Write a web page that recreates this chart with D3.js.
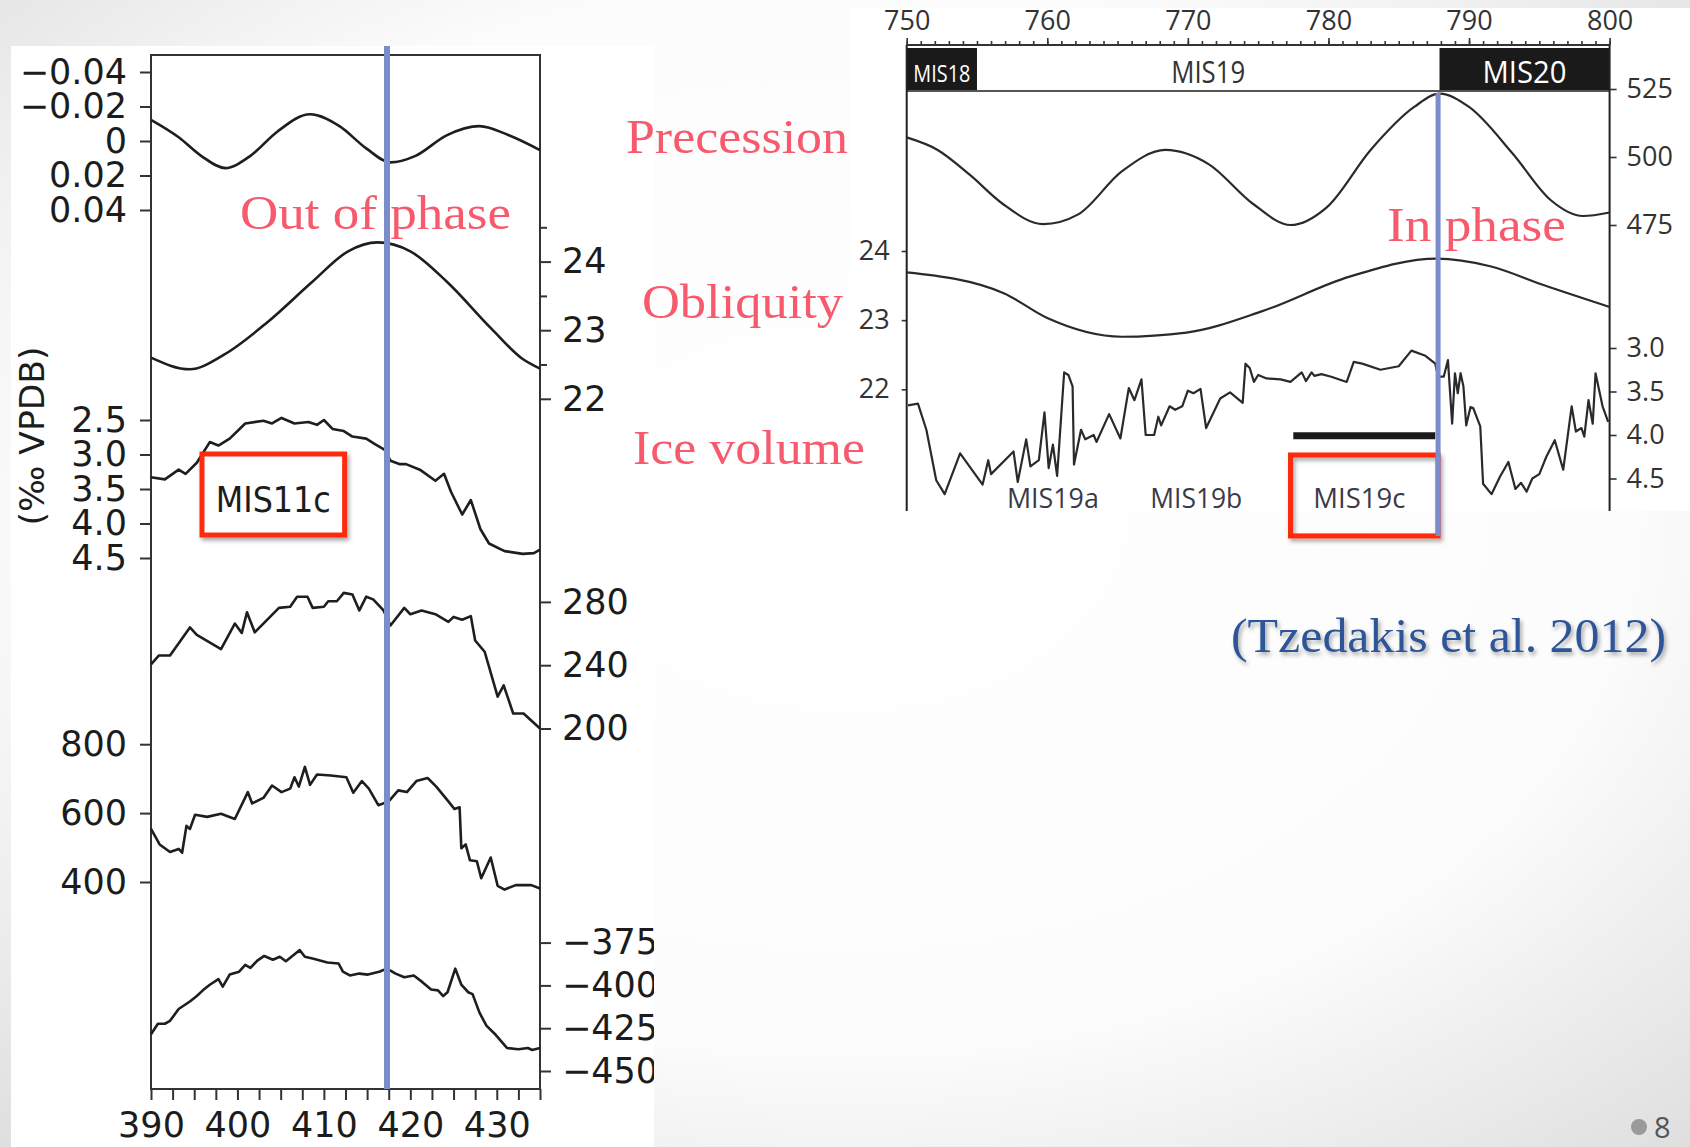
<!DOCTYPE html>
<html>
<head>
<meta charset="utf-8">
<title>MIS11 vs MIS19 orbital phasing</title>
<script src="https://d3js.org/d3.v7.min.js"></script>
<style>
  body { margin: 0; overflow: hidden; }
  .lfig text { font-family: "DejaVu Sans", sans-serif; font-size: 35px; fill: #1c1c1c; }
  .lfig .tick line { stroke: #333; stroke-width: 2px; }
  .rfig text { font-family: "Open Sans", sans-serif; font-size: 27px; fill: #333; }
  .rfig .tick line { stroke: #333; stroke-width: 1.6px; }
  .curve { fill: none; stroke: #1e1e1e; stroke-width: 2.6px; stroke-linejoin: round; }
  .rfig .curve { stroke: #2a2a2a; stroke-width: 2.2px; }
  .note { font-family: "Liberation Serif", serif; font-size: 49px; fill: #f75a6d; }
</style>
</head>
<body>
<div id="chart"></div>
<script>
// ---- left panel: MIS11 (age, kyr BP) ----
const precL = [[390,-0.0123],[393.2,-0.0022],[395.8,0.0086],[398.6,0.0157],[401.5,0.0086],[404.6,-0.0054],[408.4,-0.0155],[411.8,-0.0086],[414.9,0.0043],[417.7,0.0124],[420.6,0.0086],[424.2,-0.0033],[428.0,-0.0086],[431.4,-0.0033],[435,0.0053]];
const oblL = [[390,22.6],[394.5,22.43],[398.4,22.64],[403.5,23.12],[408.7,23.71],[412.8,24.15],[416.2,24.28],[420.0,24.15],[424.2,23.71],[429.4,23.02],[433,22.58],[435,22.44]];
const iceL = [[390,3.33],[391.6,3.36],[393.2,3.22],[394.0,3.28],[395.3,3.12],[396.8,2.82],[397.8,2.87],[399.1,2.77],[400.9,2.55],[403.0,2.51],[404.0,2.55],[405.1,2.47],[406.6,2.55],[408.2,2.53],[409.2,2.57],[410.0,2.50],[411.0,2.63],[412.3,2.66],[413.3,2.74],[414.9,2.77],[415.9,2.85],[417.0,2.93],[417.7,3.09],[418.8,3.14],[419.5,3.14],[421.1,3.22],[422.9,3.38],[423.9,3.28],[424.7,3.54],[426.0,3.87],[427.0,3.66],[428.1,4.08],[429.1,4.29],[430.9,4.40],[433.0,4.44],[434.3,4.43],[435,4.38]];
const co2L = [[390,240.5],[390.9,246.1],[392.2,246.1],[394.5,263.9],[395.3,259.1],[398.1,250.2],[399.7,266.3],[400.5,260.4],[401.1,273.4],[402.0,260.8],[404.8,276.2],[406.1,276.9],[406.9,283.3],[408.1,283.3],[408.7,276.2],[410.0,276.9],[410.5,280.4],[411.5,280.4],[412.3,285.7],[413.3,284.7],[414.1,274.6],[414.9,283.3],[415.7,281.6],[416.9,274.6],[417.7,265.1],[419.3,276.2],[420.0,272.2],[421.3,274.6],[422.9,272.2],[424.4,267.4],[425.0,270.5],[426.0,268.7],[427.0,271.0],[427.5,255.6],[428.6,248.5],[430.1,220.1],[430.8,227.2],[431.9,209.5],[433.1,209.5],[435,200]];
const ch4L = [[390,554],[391,509],[392.2,487],[393.2,496],[393.6,485],[394.1,563],[394.5,554],[395.1,595],[396.5,589],[398.1,598],[399.7,583],[401.2,661],[401.7,628],[403.0,644],[404.0,680],[405.1,661],[406.1,671],[406.6,704],[407.1,677],[407.8,734],[408.4,682],[409.2,712],[410.8,709],[412.6,704],[413.4,659],[414.4,693],[415.2,671],[416.3,623],[417.5,634],[418.6,666],[419.6,661],[420.7,693],[422.0,702],[423.0,677],[424.4,634],[425.1,612],[425.7,617],[425.9,498],[426.4,509],[426.9,463],[427.7,460],[428.2,411],[429.3,471],[430.1,389],[430.9,378],[432.2,391],[434.0,391],[435,381]];
const dDL = [[390,-428.5],[390.8,-422.4],[391.6,-422.4],[392.2,-420.7],[393.2,-413.8],[394.5,-409.4],[395.3,-406.2],[396.0,-402.9],[396.8,-399.6],[397.8,-396.3],[398.3,-400.7],[399.1,-393.7],[400.2,-392],[400.9,-388],[401.5,-389.8],[402.3,-385.5],[403.1,-382.8],[404.1,-385.0],[404.9,-383.3],[405.6,-385.9],[406.5,-382.2],[407.2,-379.4],[407.8,-383.3],[408.8,-384.4],[410.4,-386.6],[411.7,-387.2],[412.2,-392],[413.0,-394.2],[414.1,-393.1],[415.1,-393.7],[416.4,-392],[417.3,-390.2],[418.3,-393.1],[419.3,-395.2],[420.4,-394.2],[421.4,-398.1],[422.4,-402.4],[423.2,-402.9],[423.8,-406.2],[424.3,-404],[425.2,-390.2],[425.9,-399.6],[426.7,-404],[427.2,-405.1],[428.0,-415.9],[428.8,-423.5],[429.9,-429],[431.2,-436.6],[432.5,-437.3],[433.6,-436.6],[434.1,-437.7],[435,-436.6]];

const xTicksL = [390, 400, 410, 420, 430];
const precTicksL = [-0.04, -0.02, 0, 0.02, 0.04];
const oblTicksL = [22, 23, 24];
const iceTicksL = [2.5, 3.0, 3.5, 4.0, 4.5];
const co2TicksL = [200, 240, 280];
const ch4TicksL = [400, 600, 800];
const dDTicksL = [-450, -425, -400, -375];

// ---- right panel: MIS19 ----
const precR = [[750,507.2],[752.2,502.6],[754.5,493.4],[756.8,482.9],[759.7,475.3],[762.2,478.9],[765.3,494.7],[768.4,502.6],[771.5,497.3],[774.6,482.9],[777.3,475.0],[779.9,481.6],[783.0,502.6],[786.1,518.4],[787.9,523.3],[790.0,518.4],[793.1,501.3],[795.8,484.2],[798.1,478.3],[800,479.6]];
const oblR = [[750,23.69],[756.9,23.39],[760.0,23.03],[765.3,22.76],[769.9,22.82],[775.3,23.13],[781.5,23.63],[787.7,23.89],[791.5,23.78],[795.4,23.50],[800,23.19]];
const iceR = [[750.1,3.66],[750.8,3.64],[751.4,3.94],[752.1,4.52],[752.7,4.68],[753.8,4.21],[755.4,4.57],[755.8,4.29],[756.0,4.45],[757.6,4.19],[757.9,4.54],[758.5,4.05],[758.8,4.36],[759.4,4.29],[759.8,3.74],[760.1,4.38],[760.4,4.11],[760.7,4.47],[761.2,3.28],[761.5,3.31],[761.8,3.44],[761.9,4.34],[762.4,3.94],[762.7,4.05],[763.3,4.00],[763.5,4.08],[764.4,3.76],[765.2,4.04],[765.8,3.46],[766.2,3.60],[766.7,3.36],[767.0,4.00],[767.6,4.00],[767.9,3.79],[768.1,3.89],[768.7,3.67],[769.1,3.71],[769.6,3.67],[770.0,3.49],[770.4,3.52],[770.9,3.47],[771.3,3.92],[772.3,3.58],[773.0,3.51],[773.9,3.63],[774.1,3.18],[774.4,3.23],[774.7,3.39],[775.0,3.31],[775.6,3.35],[776.6,3.36],[777.3,3.39],[778.1,3.28],[778.4,3.38],[778.8,3.28],[779.0,3.32],[779.5,3.30],[780.2,3.33],[781.3,3.39],[781.8,3.16],[782.4,3.18],[783.7,3.25],[785.0,3.21],[785.9,3.03],[786.9,3.09],[787.6,3.18],[787.8,3.33],[788.2,3.33],[788.5,3.14],[788.8,3.87],[789.0,3.29],[789.2,3.52],[789.4,3.29],[789.6,3.44],[789.8,3.89],[790.1,3.68],[790.3,3.69],[790.8,3.90],[791.0,4.56],[791.6,4.68],[792.2,4.48],[792.8,4.31],[793.3,4.62],[793.7,4.55],[794.1,4.65],[794.5,4.50],[795.0,4.45],[795.5,4.25],[796.1,4.06],[796.7,4.40],[797.3,3.67],[797.6,3.96],[798.0,3.92],[798.2,4.02],[798.5,3.60],[798.8,3.87],[799.0,3.29],[799.5,3.67],[799.9,3.85]];

const xTicksR = [750, 760, 770, 780, 790, 800];
const precTicksR = [475, 500, 525];
const oblTicksR = [22, 23, 24];
const iceTicksR = [3.0, 3.5, 4.0, 4.5];
const stages = ["MIS18", "MIS19", "MIS20"];
const stageFrom = [750, 755, 787.9];
const stageTo = [755, 787.9, 800];
const subStages = ["MIS19a", "MIS19b", "MIS19c"];
const subStageAge = [760.4, 770.6, 782.2];

const phaseAgeL = 417.3, phaseAgeR = 787.8;

const W = 1690, H = 1147;
const svg = d3.select("#chart").append("svg").attr("width", W).attr("height", H);
const defs = svg.append("defs");

const bg = defs.append("radialGradient").attr("id", "bg")
  .attr("cx", "0.5").attr("cy", "0.45").attr("r", "0.75");
bg.append("stop").attr("offset", "0").attr("stop-color", "#ffffff");
bg.append("stop").attr("offset", "0.62").attr("stop-color", "#fcfcfc");
bg.append("stop").attr("offset", "1").attr("stop-color", "#dedede");

const sh = defs.append("filter").attr("id", "shadow").attr("x", "-20%").attr("y", "-20%").attr("width", "140%").attr("height", "150%");
sh.append("feDropShadow").attr("dx", 2).attr("dy", 3).attr("stdDeviation", 2).attr("flood-opacity", 0.35);

defs.append("clipPath").attr("id", "clipL").append("rect").attr("x", 11).attr("y", 46).attr("width", 643).attr("height", H - 46);
defs.append("clipPath").attr("id", "clipR").append("rect").attr("x", 906).attr("y", 45).attr("width", 704).attr("height", 466);

svg.append("rect").attr("width", W).attr("height", H).attr("fill", "url(#bg)");

// ================= left figure =================
const xL = d3.scaleLinear().domain([390, 435]).range([151, 540]);
const yPrecL = d3.scaleLinear().domain([-0.04, 0.04]).range([72, 210]);
const yOblL = d3.scaleLinear().domain([22, 24]).range([398.8, 261.6]);
const yIceL = d3.scaleLinear().domain([2.5, 4.5]).range([420, 558]);
const yCo2L = d3.scaleLinear().domain([200, 280]).range([728.5, 601.9]);
const yCh4L = d3.scaleLinear().domain([400, 800]).range([882, 744.2]);
const yDdL = d3.scaleLinear().domain([-450, -375]).range([1071, 942.6]);

const gL = svg.append("g").attr("class", "lfig").attr("clip-path", "url(#clipL)");
gL.append("rect").attr("x", 11).attr("y", 46).attr("width", 643).attr("height", H - 46).attr("fill", "#fff");

function axis(g, a, tx, ty) {
  const s = g.append("g").attr("transform", `translate(${tx},${ty})`).call(a);
  s.select(".domain").remove();
  s.attr("font-size", null).attr("font-family", null);
  return s;
}
const fmt2 = d => d === 0 ? "0" : d3.format(".2f")(d);
axis(gL, d3.axisLeft(yPrecL).tickValues(precTicksL).tickFormat(fmt2).tickSize(11).tickPadding(13), 151, 0);
axis(gL, d3.axisLeft(yIceL).tickValues(iceTicksL).tickFormat(d3.format(".1f")).tickSize(11).tickPadding(13), 151, 0);
axis(gL, d3.axisLeft(yCh4L).tickValues(ch4TicksL).tickFormat(d3.format("d")).tickSize(11).tickPadding(13), 151, 0);
axis(gL, d3.axisRight(yOblL).tickValues(oblTicksL).tickFormat(d3.format("d")).tickSize(11).tickPadding(11), 540, 0);
axis(gL, d3.axisRight(yOblL).tickValues(oblTicksL.map(d => d + 0.5)).tickFormat("").tickSize(7), 540, 0);
axis(gL, d3.axisRight(yCo2L).tickValues(co2TicksL).tickFormat(d3.format("d")).tickSize(11).tickPadding(11), 540, 0);
axis(gL, d3.axisRight(yDdL).tickValues(dDTicksL).tickFormat(d3.format("d")).tickSize(11).tickPadding(11), 540, 0);
axis(gL, d3.axisBottom(xL).tickValues(d3.range(390, 435.01, 2.5))
  .tickFormat(d => xTicksL.includes(d) ? d : "").tickSize(11).tickPadding(12), 0, 1089);

gL.append("rect").attr("x", xL(390)).attr("y", 55).attr("width", xL(435) - xL(390)).attr("height", 1089 - 55)
  .attr("fill", "none").attr("stroke", "#333").attr("stroke-width", 2);

gL.append("text").attr("transform", "translate(44,436) rotate(-90)").attr("text-anchor", "middle")
  .attr("textLength", 179).attr("lengthAdjust", "spacingAndGlyphs").style("font-size", "33px")
  .text("(\u2030 VPDB)");

const series = [[precL, yPrecL, d3.curveMonotoneX], [oblL, yOblL, d3.curveMonotoneX],
  [iceL, yIceL, d3.curveLinear], [co2L, yCo2L, d3.curveLinear], [ch4L, yCh4L, d3.curveLinear], [dDL, yDdL, d3.curveLinear]];
series.forEach(([data, y, c]) => {
  gL.append("path").attr("class", "curve")
    .attr("d", d3.line().x(d => xL(d[0])).y(d => y(d[1])).curve(c)(data));
});

// MIS11c box
gL.append("rect").attr("x", xL(395.9)).attr("y", yIceL(2.993)).attr("width", xL(412.4) - xL(395.9))
  .attr("height", yIceL(4.167) - yIceL(2.993)).attr("fill", "#fff").attr("stroke", "#fd2a0c")
  .attr("stroke-width", 5).attr("filter", "url(#shadow)");
gL.append("text").attr("x", (xL(395.9) + xL(412.4)) / 2).attr("y", 512).attr("text-anchor", "middle")
  .attr("textLength", 115).attr("lengthAdjust", "spacingAndGlyphs").text("MIS11c");

// ================= right figure =================
const xR = d3.scaleLinear().domain([750, 800]).range([906.7, 1609.6]);
const yPrecR = d3.scaleLinear().domain([475, 525]).range([225, 89]);
const yOblR = d3.scaleLinear().domain([22, 24]).range([389.3, 251]);
const yIceR = d3.scaleLinear().domain([3.0, 4.5]).range([348, 478.5]);

const gR = svg.append("g").attr("class", "rfig");
gR.append("rect").attr("x", 850).attr("y", 8).attr("width", W - 850).attr("height", 503).attr("fill", "#fff");

axis(gR, d3.axisTop(xR).tickValues(d3.range(750, 800.5, 1)).tickFormat("").tickSize(4), 0, 45);
axis(gR, d3.axisTop(xR).tickValues(xTicksR).tickFormat(d3.format("d")).tickSize(7).tickPadding(8), 0, 45);
axis(gR, d3.axisRight(yPrecR).tickValues(precTicksR).tickFormat(d3.format("d")).tickSize(7).tickPadding(10), xR(800), 0);
axis(gR, d3.axisRight(yIceR).tickValues(iceTicksR).tickFormat(d3.format(".1f")).tickSize(7).tickPadding(10), xR(800), 0);
axis(gR, d3.axisLeft(yOblR).tickValues(oblTicksR).tickFormat(d3.format("d")).tickSize(5).tickPadding(12), xR(750), 0);

// stage bar
const bar = gR.append("g");
stages.forEach((s, i) => {
  const dark = s !== "MIS19";
  bar.append("rect").attr("x", xR(stageFrom[i])).attr("y", 48).attr("width", xR(stageTo[i]) - xR(stageFrom[i]))
    .attr("height", 43).attr("fill", dark ? "#1a1a1a" : "#fff");
  const t = bar.append("text").attr("x", (xR(stageFrom[i]) + xR(stageTo[i])) / 2)
    .attr("y", s === "MIS18" ? 82 : 83).attr("text-anchor", "middle")
    .attr("lengthAdjust", "spacingAndGlyphs")
    .style("fill", dark ? "#fff" : "#333").text(s);
  if (s === "MIS18") t.attr("textLength", 57).style("font-size", "23px");
  else t.attr("textLength", s === "MIS19" ? 74 : 84).style("font-size", "31px");
});
gR.append("line").attr("x1", xR(750)).attr("x2", xR(800)).attr("y1", 91).attr("y2", 91).attr("stroke", "#555").attr("stroke-width", 2);
gR.append("line").attr("x1", xR(750)).attr("x2", xR(800)).attr("y1", 45).attr("y2", 45).attr("stroke", "#333").attr("stroke-width", 2);
[750, 800].forEach(a => gR.append("line").attr("x1", xR(a)).attr("x2", xR(a)).attr("y1", 45).attr("y2", 511)
  .attr("stroke", "#222").attr("stroke-width", 2));

const gRc = gR.append("g").attr("clip-path", "url(#clipR)");
[[precR, yPrecR, d3.curveMonotoneX], [oblR, yOblR, d3.curveMonotoneX], [iceR, yIceR, d3.curveLinear]].forEach(([data, y, c]) => {
  gRc.append("path").attr("class", "curve")
    .attr("d", d3.line().x(d => xR(d[0])).y(d => y(d[1])).curve(c)(data));
});

// MIS19c duration bar
gR.append("line").attr("x1", xR(777.5)).attr("x2", xR(787.6)).attr("y1", yIceR(4.01)).attr("y2", yIceR(4.01))
  .attr("stroke", "#1a1a1a").attr("stroke-width", 7);

subStages.forEach((s, i) => {
  gR.append("text").attr("x", xR(subStageAge[i])).attr("y", 508).attr("text-anchor", "middle")
    .attr("textLength", 92).attr("lengthAdjust", "spacingAndGlyphs").style("fill", "#3a3a48").text(s);
});

gR.append("rect").attr("x", xR(777.3)).attr("y", yIceR(4.23)).attr("width", xR(787.8) - xR(777.3))
  .attr("height", yIceR(5.16) - yIceR(4.23)).attr("fill", "none").attr("stroke", "#fd2a0c")
  .attr("stroke-width", 5).attr("filter", "url(#shadow)");

// ================= slide annotations =================
function note(txt, x, y, w) {
  svg.append("text").attr("class", "note").attr("x", x).attr("y", y)
    .attr("textLength", w).attr("lengthAdjust", "spacingAndGlyphs").text(txt);
}
note("Precession", 626, 153, 222);
note("Obliquity", 642, 318, 201);
note("Ice volume", 633, 464, 232);
note("Out of phase", 240, 229, 271);
note("In phase", 1387, 241, 179);

svg.append("text").attr("x", 1231).attr("y", 652).attr("textLength", 435).attr("lengthAdjust", "spacingAndGlyphs")
  .style("font-family", "Liberation Serif, serif").style("font-size", "48px").style("fill", "#2f5597")
  .attr("filter", "url(#shadow)").text("(Tzedakis et al. 2012)");

// phase markers
svg.append("line").attr("x1", xL(phaseAgeL)).attr("x2", xL(phaseAgeL)).attr("y1", 46).attr("y2", 1089)
  .attr("stroke", "#7a8cc9").attr("stroke-width", 6);
svg.append("line").attr("x1", xR(phaseAgeR)).attr("x2", xR(phaseAgeR)).attr("y1", 93).attr("y2", 536)
  .attr("stroke", "#7a8cc9").attr("stroke-width", 5);

// page number
svg.append("circle").attr("cx", 1639).attr("cy", 1127).attr("r", 8).attr("fill", "#9a9a9a");
svg.append("text").attr("x", 1654).attr("y", 1138).style("font-family", "Open Sans, sans-serif")
  .style("font-size", "29px").style("fill", "#555").text("8");
</script>
</body>
</html>
